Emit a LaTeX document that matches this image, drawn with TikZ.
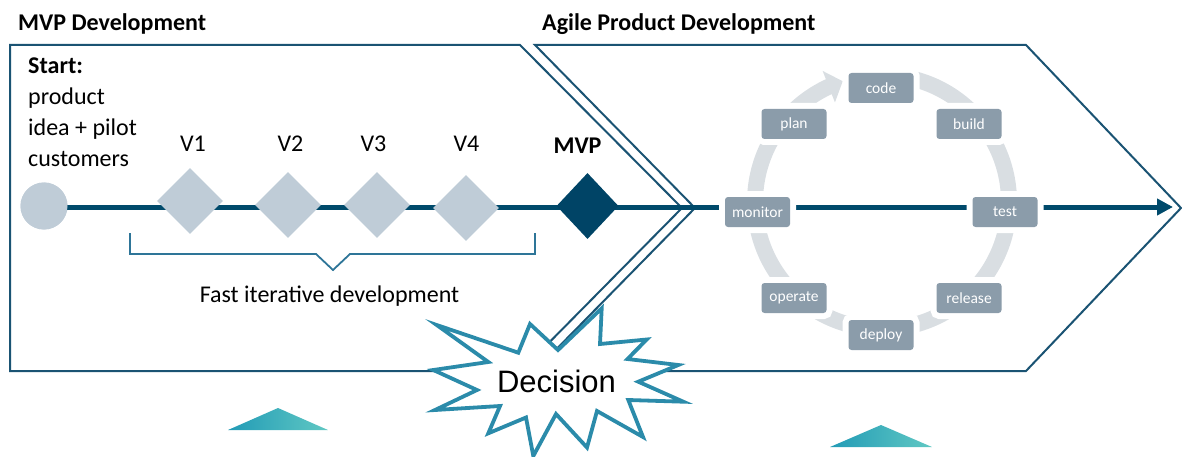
\documentclass[tikz,border=0pt]{standalone}
\usepackage{fontspec}
\setmainfont{Carlito}
\newfontfamily\arialfont{Liberation Sans}
\usetikzlibrary{arrows.meta,shapes.geometric,bending}
\definecolor{frameblue}{HTML}{1A5373}
\definecolor{mainblue}{HTML}{004A6B}
\definecolor{bracketblue}{HTML}{2E7598}
\definecolor{starblue}{HTML}{2B8BAA}
\definecolor{ringgray}{HTML}{D9DEE2}
\definecolor{boxgray}{HTML}{8B9CAA}
\definecolor{lightdia}{HTML}{BFCCD7}
\definecolor{darkdia}{HTML}{004466}
\definecolor{tealL}{HTML}{229BB6}
\definecolor{tealM}{HTML}{27A9A0}
\definecolor{tealR}{HTML}{60C8C3}
\tikzset{
  frame/.style={draw=frameblue, line width=2pt, line join=miter},
  mainline/.style={draw=mainblue, line width=5pt},
  ringline/.style={draw=ringgray, line width=16pt},
  cyc/.style={rectangle, rounded corners=3pt, fill=boxgray, minimum width=65pt,
    minimum height=30pt, inner sep=0pt, text=white,
    font=\fontsize{15.5}{16}\selectfont, preaction={draw=white, line width=12pt}},
  vdia/.style={diamond, fill=lightdia, minimum width=66pt, minimum height=66pt, inner sep=0pt},
  lbl/.style={font=\fontsize{24}{24}\selectfont, anchor=base, inner sep=0pt},
  lbll/.style={font=\fontsize{24}{24}\selectfont, anchor=base west, inner sep=0pt},
  bracketline/.style={draw=bracketblue, line width=1.8pt},
  starline/.style={draw=starblue, line width=3.8pt, fill=white, line join=miter},
}
\begin{document}
\begin{tikzpicture}[x=1pt,y=-1pt]
\useasboundingbox (0,0) rectangle (1182,457);
% frames
\draw[frame] (10,45) -- (520,45) -- (682,208) -- (521,371) -- (10,371) -- cycle;
\draw[frame] (535,45) -- (1026,45) -- (1181,208) -- (1026,371) -- (535,371) -- (695,208) -- cycle;
% nodes on the line
\node[circle, fill=lightdia, minimum size=47pt, inner sep=0pt] (start) at (44,206) {};
\coordinate (mainend) at (1173,207);
\draw[mainline, -{Triangle[length=16pt,width=16pt]}] (start.center |- mainend) -- (mainend);
\node[circle, fill=lightdia, minimum size=47pt, inner sep=0pt] at (start) {};
% ring
\draw[ringline, -{Triangle[length=15pt,width=33pt]}] (882,202) ++(-85:127) arc[start angle=-85, end angle=252, radius=127];
% cycle boxes
\node[cyc] (code) at (881,88) {code};
\node[cyc] (build) at (969,124) {build};
\node[cyc] (test) at (1005,212) {test};
\node[cyc] (release) at (969,298) {release};
\node[cyc] (deploy) at (881,335) {deploy};
\node[cyc] (operate) at (794,298) {operate};
\node[cyc] (monitor) at (757.5,212) {monitor};
\node[cyc] (plan) at (794,124) {plan};
% diamonds
\node[vdia] (v1) at (190,201) {};
\node[vdia] (v2) at (288,205) {};
\node[vdia] (v3) at (377,205) {};
\node[vdia] (v4) at (466,208) {};
\node[diamond, fill=darkdia, minimum width=62pt, minimum height=66pt, inner sep=0pt] (mvp) at (587.5,206) {};
% labels
\node[lbl] (v1l) at (193,152) {V1};
\node[lbl] (v2l) at (290.5,152) {V2};
\node[lbl] (v3l) at (373.5,152) {V3};
\node[lbl] (v4l) at (466.5,152) {V4};
\node[lbl, font=\bfseries\fontsize{24}{24}\selectfont] (mvpl) at (577.5,154) {MVP};
\node[lbll, font=\bfseries\fontsize{24}{24}\selectfont] (t1) at (18,31) {MVP Development};
\node[lbll, font=\bfseries\fontsize{24}{24}\selectfont] (t2) at (542,31) {Agile Product Development};
\node[lbll, font=\bfseries\fontsize{24}{24}\selectfont] (s1) at (28,74) {Start:};
\node[lbll] (s2) at (28,105) {product};
\node[lbll] (s3) at (28,136) {idea + pilot};
\node[lbll] (s4) at (28,167) {customers};
\node[lbl] (fast) at (329.5,302) {Fast iterative development};
% bracket
\draw[bracketline] (130,233) -- (130,254) -- (316,254) -- (333,270) -- (350,254) -- (535,254) -- (535,233);
% decision star
\draw[starline] (436.7,325) -- (518.3,352.7) -- (530,324) -- (558,350) -- (601.7,308.3)
  -- (600,344) -- (646.7,339.5) -- (627.5,359) -- (678.3,365) -- (638.3,381.7)
  -- (683.3,401.7) -- (628.3,400) -- (643,437) -- (597,411) -- (587,447.5)
  -- (556,414) -- (533.3,456) -- (526,417.5) -- (488.3,433.3) -- (500,406)
  -- (435,410) -- (477,390) -- (433.3,370) -- (488.3,362) -- cycle;
\node[font=\arialfont\fontsize{31}{31}\selectfont, inner sep=0pt] (decision) at (556.5,381.5) {Decision};
% triangles
\shade[left color=tealL, middle color=tealM, right color=tealR] (228,430) -- (278,408) -- (328,430) -- cycle;
\shade[left color=tealL, middle color=tealM, right color=tealR] (830,447) -- (881,425) -- (932,447) -- cycle;
\end{tikzpicture}
\end{document}
